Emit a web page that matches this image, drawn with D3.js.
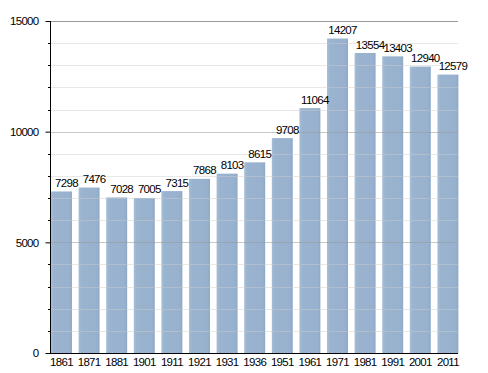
<!DOCTYPE html>
<html>
<head>
<meta charset="utf-8">
<script src="https://cdn.jsdelivr.net/npm/d3@7"></script>
<style>
body { margin: 0; background: #fff; }
text { font-family: "Liberation Sans", Arial, sans-serif; }
</style>
</head>
<body>
<div id="chart"></div>
<script>
// data
var years = ["1861", "1871", "1881", "1901", "1911", "1921", "1931", "1936", "1951", "1961", "1971", "1981", "1991", "2001", "2011"];
var population = [7298, 7476, 7028, 7005, 7315, 7868, 8103, 8615, 9708, 11064, 14207, 13554, 13403, 12940, 12579];
var yTicks = [0, 5000, 10000, 15000];

// svg params
var svgWidth = 488;
var svgHeight = 373;
var plotLeft = 50, plotRight = 458, plotTop = 21, plotBottom = 353;
var fontSize = "11.5px", spacing = "-0.7px";

var svg = d3.select("#chart").append("svg")
  .attr("width", svgWidth)
  .attr("height", svgHeight);

// bar gradient
var grad = svg.append("defs").append("linearGradient")
  .attr("id", "barGrad")
  .attr("x1", "0").attr("x2", "1").attr("y1", "0").attr("y2", "0");
grad.append("stop").attr("offset", "0%").attr("stop-color", "#a6bdd6");
grad.append("stop").attr("offset", "15%").attr("stop-color", "#9ab3cf");
grad.append("stop").attr("offset", "85%").attr("stop-color", "#98b1ce");
grad.append("stop").attr("offset", "100%").attr("stop-color", "#90a9c6");

var x = d3.scaleBand()
  .domain(years)
  .range([plotLeft + 1, plotRight + 0.4])
  .paddingInner(0.24)
  .paddingOuter(0);

var y = d3.scaleLinear()
  .domain([0, 15000])
  .range([plotBottom, plotTop]);

// bars
svg.selectAll("rect.bar")
  .data(population)
  .enter()
  .append("rect")
  .attr("class", "bar")
  .attr("x", (d, i) => x(years[i]))
  .attr("y", d => y(d))
  .attr("width", x.bandwidth())
  .attr("height", d => plotBottom - y(d))
  .attr("fill", "url(#barGrad)");

// gridlines every 1000, drawn over the bars
var minor = d3.range(1000, 15001, 1000);
svg.selectAll("line.grid")
  .data(minor)
  .enter()
  .append("line")
  .attr("x1", plotLeft)
  .attr("x2", plotRight)
  .attr("y1", d => Math.round(y(d)) + 0.5)
  .attr("y2", d => Math.round(y(d)) + 0.5)
  .attr("stroke", d => d % 5000 == 0 ? "#999" : "#ccc")
  .attr("stroke-opacity", d => d == 15000 ? 1 : (d % 5000 == 0 ? 0.55 : 0.45))
  .attr("stroke-width", 1);

// left axis
var leftAxis = d3.axisLeft(y)
  .tickValues(yTicks)
  .tickSize(5)
  .tickPadding(7)
  .tickFormat(d3.format("d"));
var yAxis = svg.append("g")
  .attr("transform", `translate(${plotLeft + 0.5}, 0)`)
  .call(leftAxis);
yAxis.select(".domain").attr("stroke", "#000").attr("d", `M0,${plotTop}V${plotBottom}`);
yAxis.selectAll("text").attr("font-size", fontSize).attr("letter-spacing", spacing).attr("fill", "#000")
  .attr("font-family", "Liberation Sans, Arial, sans-serif");

// minor ticks
svg.selectAll("line.minor")
  .data(minor.filter(d => d % 5000 != 0))
  .enter()
  .append("line")
  .attr("x1", plotLeft - 2)
  .attr("x2", plotLeft)
  .attr("y1", d => Math.round(y(d)) + 0.5)
  .attr("y2", d => Math.round(y(d)) + 0.5)
  .attr("stroke", "#000");

// baseline
svg.append("line")
  .attr("x1", plotLeft).attr("x2", plotRight)
  .attr("y1", plotBottom + 0.5).attr("y2", plotBottom + 0.5)
  .attr("stroke", "#000");

// x labels
svg.selectAll("text.xlab")
  .data(years)
  .enter()
  .append("text")
  .attr("class", "xlab")
  .attr("x", d => x(d) + x.bandwidth() / 2)
  .attr("y", 365.5)
  .attr("text-anchor", "middle")
  .attr("font-size", fontSize)
  .attr("letter-spacing", spacing)
  .text(d => d);

// value labels
svg.selectAll("text.val")
  .data(population)
  .enter()
  .append("text")
  .attr("class", "val")
  .attr("x", (d, i) => x(years[i]) + x.bandwidth() / 2 + 5)
  .attr("y", d => y(d) - 4.5)
  .attr("text-anchor", "middle")
  .attr("font-size", fontSize)
  .attr("letter-spacing", spacing)
  .text(d => d);
</script>
</body>
</html>
